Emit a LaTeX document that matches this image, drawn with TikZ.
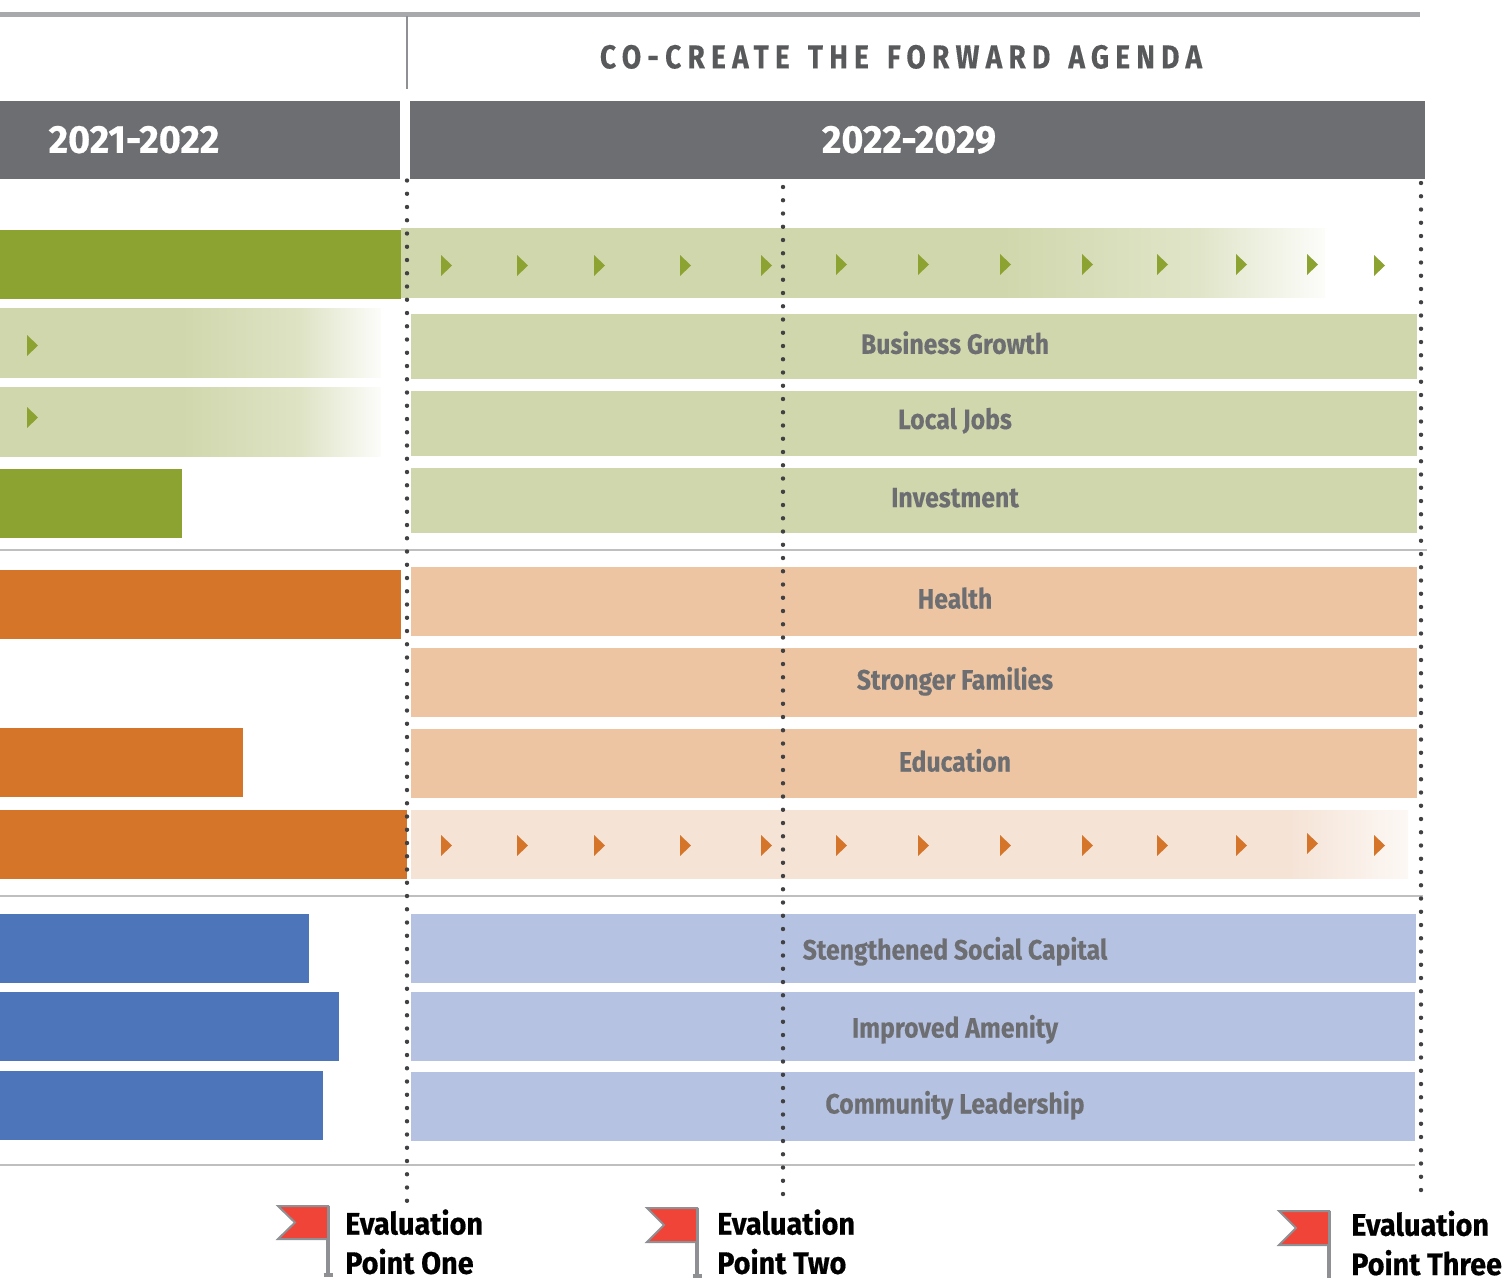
\documentclass[tikz,border=0pt]{standalone}
\usepackage{fontspec}
\setmainfont{Fira Sans}
\newfontfamily\labelfont[BoldFeatures={FakeStretch=0.885,FakeBold=0.15}]{Fira Sans}
\newfontfamily\heavyfont[BoldFeatures={FakeStretch=0.93,FakeBold=0.5}]{Fira Sans}
\newfontfamily\yearfont[BoldFeatures={FakeStretch=0.965,FakeBold=0.5}]{Fira Sans}
\newfontfamily\capsfont[BoldFeatures={FakeStretch=0.85,FakeBold=0.3,LetterSpace=19,WordSpace=1.4}]{Fira Sans}
\definecolor{headgray}{HTML}{6D6E71}
\definecolor{capsgray}{HTML}{58595B}
\definecolor{rulegray}{HTML}{A7A9AC}
\definecolor{thingray}{HTML}{BFBFBF}
\definecolor{polegray}{HTML}{8E9093}
\definecolor{dotgray}{HTML}{414042}
\definecolor{oliveg}{HTML}{8CA231}
\definecolor{paleg}{HTML}{D0D7AC}
\definecolor{rust}{HTML}{D4752A}
\definecolor{paler}{HTML}{EDC5A2}
\definecolor{palerr}{HTML}{F5E3D6}
\definecolor{steel}{HTML}{4D76BA}
\definecolor{paleb}{HTML}{B6C2E1}
\definecolor{flagred}{HTML}{F04438}
\tikzset{
	dotline/.style={dotgray,line width=4.4pt,line cap=round,dash pattern=on 0pt off 13.25pt},
	sepline/.style={thingray,line width=1.6pt},
	rowtext/.style={text=headgray,font=\labelfont\fontsize{28}{28}\selectfont\bfseries,anchor=base,inner sep=0pt},
	yeartext/.style={text=white,font=\yearfont\fontsize{39}{39}\selectfont\bfseries,anchor=base,inner sep=0pt},
	flagbox/.style={fill=flagred,draw=polegray,line width=2pt,line join=miter},
	flagpole/.style={polegray,line width=3.5pt},
	flagtext/.style={text=black,font=\heavyfont\fontsize{31}{39.3}\selectfont\bfseries,anchor=base west,align=left,inner sep=0pt}
}
\begin{document}
\begin{tikzpicture}[x=1pt,y=-1pt]

	\useasboundingbox (0,0) rectangle (1504,1278);

	\draw[rulegray,line width=5pt] (0,14) -- (1420,14);
	\draw[polegray,line width=2.5pt] (407,16) -- (407,89);
	\node[text=capsgray,font=\capsfont\fontsize{33}{33}\selectfont\bfseries,anchor=base,inner sep=0pt] (agenda) at (901,68.3) {CO-CREATE THE FORWARD AGENDA};

	\fill[headgray] (0,101) rectangle ++ (400,78);
	\fill[headgray] (410,101) rectangle ++ (1015,78);
	\node[yeartext] (yearone) at (134,152.8) {2021-2022};
	\node[yeartext] (yeartwo) at (909,152.8) {2022-2029};

	\fill[paleg] (401,228) rectangle (1001,298);
	\shade[left color=paleg,right color=paleg!65] (1000,228) rectangle (1201,297.4);
	\shade[left color=paleg!65,right color=paleg!6] (1200,228) rectangle (1325,297.4);
	\fill[oliveg] (0,230) rectangle ++ (401,69);
	\fill[paleg] (0,308) rectangle (181,378);
	\shade[left color=paleg,right color=paleg!70] (180,308) rectangle (301,377.4);
	\shade[left color=paleg!70,right color=paleg!6] (300,308) rectangle (381,377.4);
	\fill[paleg] (0,387) rectangle (181,457);
	\shade[left color=paleg,right color=paleg!70] (180,387) rectangle (301,456.4);
	\shade[left color=paleg!70,right color=paleg!6] (300,387) rectangle (381,456.4);
	\fill[oliveg] (0,469) rectangle ++ (182,69);
	\fill[paleg] (411,314) rectangle (1417,379);
	\fill[paleg] (411,391) rectangle (1417,456);
	\fill[paleg] (411,468) rectangle (1417,533);

	\fill[rust] (0,570) rectangle ++ (401,69);
	\fill[rust] (0,728) rectangle ++ (243,69);
	\fill[palerr] (411,810) rectangle (1291,879);
	\shade[left color=palerr,right color=palerr!25] (1290,810) rectangle (1408,878.4);
	\fill[rust] (0,810) rectangle ++ (407,69);
	\fill[paler] (411,567) rectangle (1417,636);
	\fill[paler] (411,648) rectangle (1417,717);
	\fill[paler] (411,729) rectangle (1417,798);

	\fill[steel] (0,914) rectangle ++ (309,69);
	\fill[steel] (0,992) rectangle ++ (339,69);
	\fill[steel] (0,1071) rectangle ++ (323,69);
	\fill[paleb] (411,914) rectangle (1416,983);
	\fill[paleb] (411,992) rectangle (1415,1061);
	\fill[paleb] (411,1072) rectangle (1415,1141);

	\draw[sepline] (0,550) -- (1427,550);
	\draw[sepline] (0,896) -- (1423,896);
	\draw[sepline] (0,1165) -- (1415,1165);

	\fill[oliveg] (27,335) -- ++ (11,10.5) -- ++ (-11,10.5) -- cycle;
	\fill[oliveg] (27,407) -- ++ (11,10.5) -- ++ (-11,10.5) -- cycle;
	\fill[oliveg] (441,255) -- ++ (11,10.5) -- ++ (-11,10.5) -- cycle;
	\fill[oliveg] (517,255) -- ++ (11,10.5) -- ++ (-11,10.5) -- cycle;
	\fill[oliveg] (594,255) -- ++ (11,10.5) -- ++ (-11,10.5) -- cycle;
	\fill[oliveg] (680,255) -- ++ (11,10.5) -- ++ (-11,10.5) -- cycle;
	\fill[oliveg] (761,255) -- ++ (11,10.5) -- ++ (-11,10.5) -- cycle;
	\fill[oliveg] (836,254) -- ++ (11,10.5) -- ++ (-11,10.5) -- cycle;
	\fill[oliveg] (918,254) -- ++ (11,10.5) -- ++ (-11,10.5) -- cycle;
	\fill[oliveg] (1000,254) -- ++ (11,10.5) -- ++ (-11,10.5) -- cycle;
	\fill[oliveg] (1082,254) -- ++ (11,10.5) -- ++ (-11,10.5) -- cycle;
	\fill[oliveg] (1157,254) -- ++ (11,10.5) -- ++ (-11,10.5) -- cycle;
	\fill[oliveg] (1236,254) -- ++ (11,10.5) -- ++ (-11,10.5) -- cycle;
	\fill[oliveg] (1307,254) -- ++ (11,10.5) -- ++ (-11,10.5) -- cycle;
	\fill[oliveg] (1374,255) -- ++ (11,10.5) -- ++ (-11,10.5) -- cycle;
	\fill[rust] (441,835) -- ++ (11,10.5) -- ++ (-11,10.5) -- cycle;
	\fill[rust] (517,835) -- ++ (11,10.5) -- ++ (-11,10.5) -- cycle;
	\fill[rust] (594,835) -- ++ (11,10.5) -- ++ (-11,10.5) -- cycle;
	\fill[rust] (680,835) -- ++ (11,10.5) -- ++ (-11,10.5) -- cycle;
	\fill[rust] (761,835) -- ++ (11,10.5) -- ++ (-11,10.5) -- cycle;
	\fill[rust] (836,835) -- ++ (11,10.5) -- ++ (-11,10.5) -- cycle;
	\fill[rust] (918,835) -- ++ (11,10.5) -- ++ (-11,10.5) -- cycle;
	\fill[rust] (1000,835) -- ++ (11,10.5) -- ++ (-11,10.5) -- cycle;
	\fill[rust] (1082,835) -- ++ (11,10.5) -- ++ (-11,10.5) -- cycle;
	\fill[rust] (1157,835) -- ++ (11,10.5) -- ++ (-11,10.5) -- cycle;
	\fill[rust] (1236,835) -- ++ (11,10.5) -- ++ (-11,10.5) -- cycle;
	\fill[rust] (1307,833) -- ++ (11,10.5) -- ++ (-11,10.5) -- cycle;
	\fill[rust] (1374,835) -- ++ (11,10.5) -- ++ (-11,10.5) -- cycle;

	\draw[dotline] (407,180.5) -- (407,1201);
	\draw[dotline] (783,187) -- (783,1197);
	\draw[dotline] (1421,183) -- (1421,1197);

	\node[rowtext] (business) at (955,353.8) {Business Growth};
	\node[rowtext] (localjobs) at (955,429) {Local Jobs};
	\node[rowtext] (investment) at (955,507.2) {Investment};
	\node[rowtext] (health) at (955,608.5) {Health};
	\node[rowtext] (families) at (955,689.5) {Stronger Families};
	\node[rowtext] (education) at (955,771.5) {Education};
	\node[rowtext] (capital) at (955,959.5) {Stengthened Social Capital};
	\node[rowtext] (amenity) at (955,1037.5) {Improved Amenity};
	\node[rowtext] (leadership) at (955,1113.5) {Community Leadership};

	\draw[flagpole] (328,1206) -- (328,1275);
	\draw[flagpole] (323.5,1275) -- (332.5,1275);
	\draw[flagbox] (278,1206) -- (328,1206) -- (328,1239) -- (278,1239) -- (295,1222.5) -- cycle;
	\draw[flagpole] (697,1208) -- (697,1276);
	\draw[flagpole] (692.5,1276) -- (701.5,1276);
	\draw[flagbox] (647,1208) -- (697,1208) -- (697,1242) -- (647,1242) -- (664,1225) -- cycle;
	\draw[flagpole] (1329,1211) -- (1329,1278);
	\draw[flagbox] (1279,1211) -- (1329,1211) -- (1329,1245) -- (1279,1245) -- (1296,1228) -- cycle;

	\node[flagtext] (evalone) at (345,1273.8) {Evaluation\\Point One};
	\node[flagtext] (evaltwo) at (717,1273.8) {Evaluation\\Point Two};
	\node[flagtext] (evalthree) at (1351,1275) {Evaluation\\Point Three};

\end{tikzpicture}
\end{document}
